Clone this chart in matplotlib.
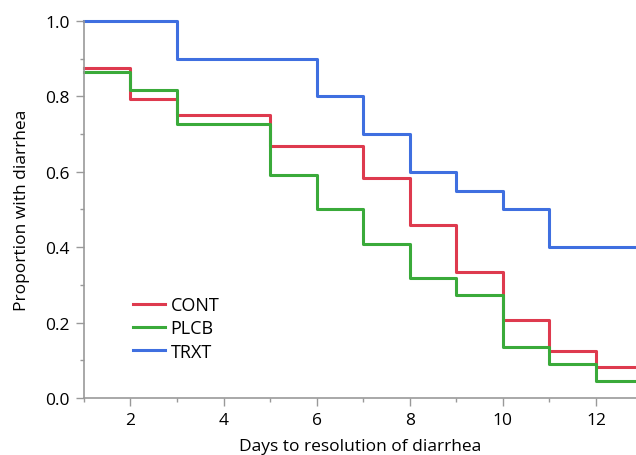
import matplotlib.pyplot as plt
from matplotlib.ticker import MultipleLocator

# Days (step starts) and proportion still with diarrhea
days = [1, 2, 3, 4, 5, 6, 7, 8, 9, 10, 11, 12, 13]

cont = [0.875, 0.792, 0.75, 0.75, 0.667, 0.667, 0.583, 0.458, 0.333, 0.208, 0.125, 0.083, 0.083]
plcb = [0.864, 0.818, 0.727, 0.727, 0.591, 0.5, 0.409, 0.318, 0.273, 0.136, 0.091, 0.045, 0.045]
trxt = [1.0, 1.0, 0.9, 0.9, 0.9, 0.8, 0.7, 0.6, 0.55, 0.5, 0.4, 0.4, 0.4]

labels = ["CONT", "PLCB", "TRXT"]
colors = ["#DE3A4E", "#3AAA3A", "#3F6FE0"]

plt.rcParams["font.family"] = ["Open Sans", "DejaVu Sans"]

fig = plt.figure(figsize=(6.36, 4.56), dpi=100)
ax = fig.add_axes([0.132, 0.125, 0.868, 0.827])

for vals, lab, col in zip([cont, plcb, trxt], labels, colors):
    ax.step(days, vals, where="post", color=col, lw=2.2, label=lab, clip_on=False)

ax.set_xlim(1, 12.86)
ax.set_ylim(0, 1.0)

ax.xaxis.set_major_locator(MultipleLocator(2))
ax.xaxis.set_minor_locator(MultipleLocator(1))
ax.yaxis.set_major_locator(MultipleLocator(0.2))
ax.yaxis.set_minor_locator(MultipleLocator(0.1))
ax.yaxis.set_major_formatter(plt.FormatStrFormatter("%.1f"))

for side in ["top", "right"]:
    ax.spines[side].set_visible(False)
for side in ["left", "bottom"]:
    ax.spines[side].set_color("#999999")
    ax.spines[side].set_linewidth(1.2)

ax.tick_params(which="both", direction="out", color="#999999", width=1.0)
ax.tick_params(which="major", length=5.5, labelsize=12.5, pad=4.5)
ax.tick_params(which="minor", length=3)

ax.set_xlabel("Days to resolution of diarrhea", fontsize=12.5, labelpad=7)
ax.set_ylabel("Proportion with diarrhea", fontsize=12.5, labelpad=11)

ax.legend(loc="upper left", bbox_to_anchor=(0.075, 0.29), frameon=False,
          fontsize=13, handlelength=1.8, handletextpad=0.3, labelspacing=0.3,
          borderaxespad=0)

plt.savefig("out.png", dpi=100)
